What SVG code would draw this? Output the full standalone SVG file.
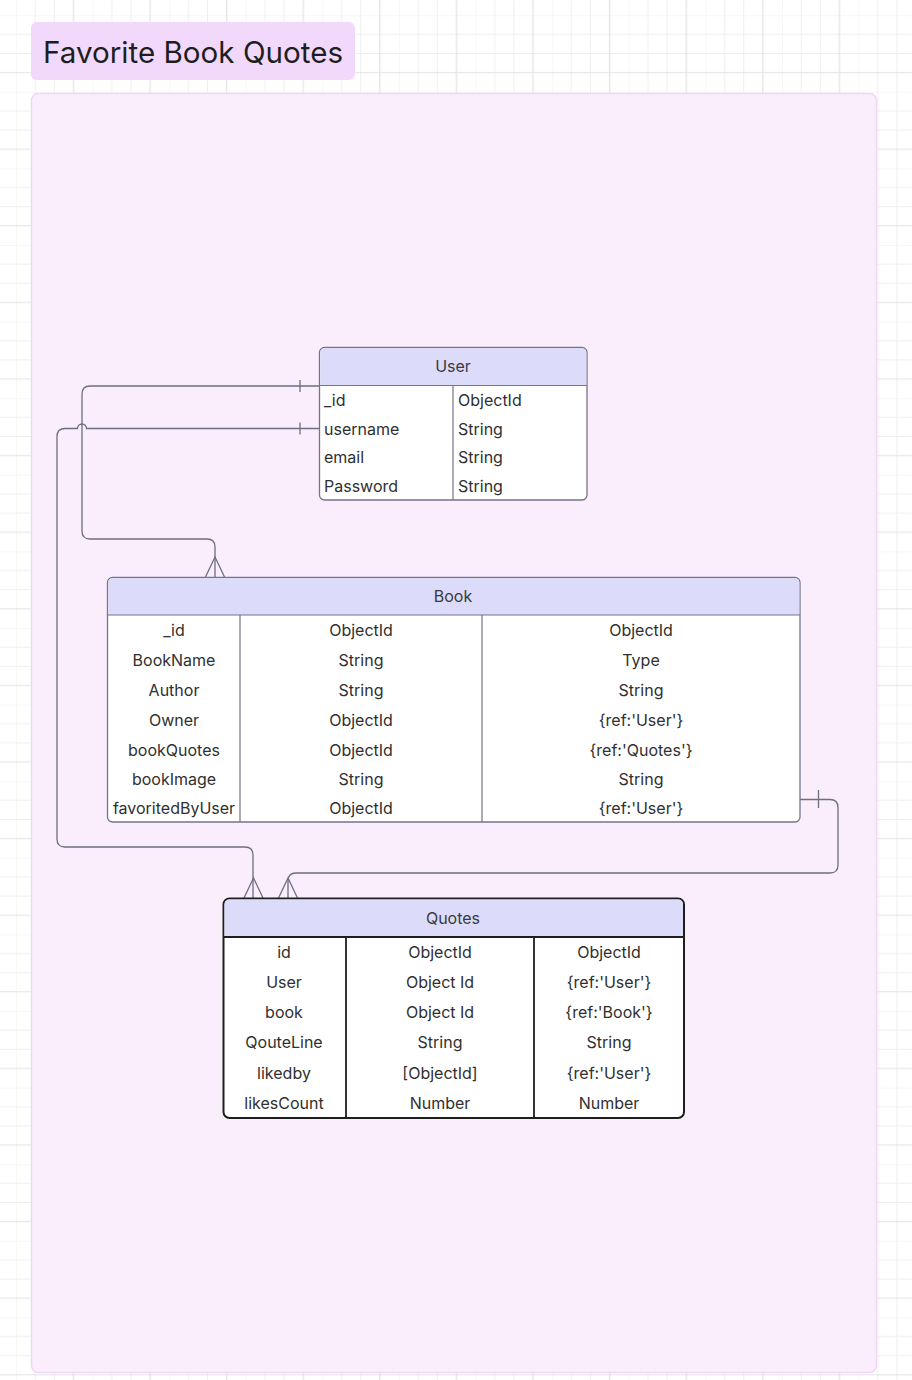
<svg xmlns="http://www.w3.org/2000/svg" width="912" height="1380" viewBox="0 0 912 1380">
<style>
.t{font-family:Inter,"Noto Sans","Liberation Sans",sans-serif;font-size:16px;fill:#303030;dominant-baseline:central}
.c{text-anchor:middle}
.h{font-family:Inter,"Noto Sans","Liberation Sans",sans-serif;font-size:16px;fill:#3a3a3a;text-anchor:middle;dominant-baseline:central}
.frame{fill:#ffffff;stroke:#74748a;stroke-width:1.3}
.frameSel{fill:#ffffff;stroke:#1e1e1e;stroke-width:2}
.head{fill:#dcdcfa}
.div{stroke:#74748a;stroke-width:1.2;fill:none}
.divSel{stroke:#1e1e1e;stroke-width:1.8;fill:none}
.conn{fill:none;stroke:#6e6e80;stroke-width:1.3}
</style>
<defs>
<pattern id="grid" patternUnits="userSpaceOnUse" x="16" y="15.2" width="76.6" height="76.6">
<path d="M0,0V76.6M19.15,0V76.6M38.3,0V76.6M0,0H76.6M0,19.15H76.6M0,38.3H76.6" stroke="#efefef" stroke-width="1" fill="none"/>
<path d="M57.45,0V76.6M0,57.45H76.6" stroke="#e2e2e2" stroke-width="1.2" fill="none"/>
</pattern>
</defs>
<rect width="912" height="1380" fill="#ffffff"/>
<rect width="912" height="1380" fill="url(#grid)"/>
<g id="title">
<rect x="31" y="22" width="324" height="58" rx="6" fill="#f2d9fb"/>
<text x="43" y="52" style="font-family:Inter,'Noto Sans','Liberation Sans',sans-serif;font-size:29.6px;fill:#1e1e1e;dominant-baseline:central">Favorite Book Quotes</text>
</g>
<g id="section">
<rect x="31.5" y="93.5" width="845" height="1279" rx="7" fill="#fbeefc" stroke="#f0d6f9" stroke-width="1.5"/>
</g>
<g id="connectors">
<path class="conn" d="M319,386H90Q82,386 82,394V531Q82,539 90,539H207Q215,539 215,547V577"/>
<path class="conn" d="M300,380V392"/>
<path class="conn" d="M205.5,577L215,557L224.5,577"/>
<path class="conn" d="M319,428.5H86.5A4.5,4.5 0 0 0 77.5,428.5H65Q57,428.5 57,436.5V839Q57,847 65,847H245Q253,847 253,855V898"/>
<path class="conn" d="M300,422.5V434.5"/>
<path class="conn" d="M244,898L253.5,878L263,898"/>
<path class="conn" d="M800,799.5H830Q838,799.5 838,807.5V865Q838,873 830,873H296Q288,873 288,881V898"/>
<path class="conn" d="M818.5,790V808"/>
<path class="conn" d="M278.5,898L288,878L297.5,898"/>
</g>
<g id="user">
<rect class="frame" x="319.5" y="347.5" width="267.5" height="152.5" rx="5"/>
<path class="head" d="M324.5,348.2H582Q586.3,348.2 586.3,352.5V385.5H320.2V352.5Q320.2,348.2 324.5,348.2Z"/>
<path class="div" d="M319.5,385.5H587M453,385.5V500"/>
<text class="h" x="453" y="366">User</text>
<text class="t" x="324" y="400">_id</text><text class="t" x="458" y="400">ObjectId</text>
<text class="t" x="324" y="428.5">username</text><text class="t" x="458" y="428.5">String</text>
<text class="t" x="324" y="457">email</text><text class="t" x="458" y="457">String</text>
<text class="t" x="324" y="486">Password</text><text class="t" x="458" y="486">String</text>
</g>
<g id="book">
<rect class="frame" x="107.5" y="577.5" width="692.5" height="244.5" rx="5"/>
<path class="head" d="M112.5,578.2H795Q799.3,578.2 799.3,582.5V615H108.2V582.5Q108.2,578.2 112.5,578.2Z"/>
<path class="div" d="M107.5,615H800M240,615V822M482,615V822"/>
<text class="h" x="453" y="596">Book</text>
<text class="t c" x="174" y="630">_id</text><text class="t c" x="361" y="630">ObjectId</text><text class="t c" x="641" y="630">ObjectId</text>
<text class="t c" x="174" y="660">BookName</text><text class="t c" x="361" y="660">String</text><text class="t c" x="641" y="660">Type</text>
<text class="t c" x="174" y="690">Author</text><text class="t c" x="361" y="690">String</text><text class="t c" x="641" y="690">String</text>
<text class="t c" x="174" y="720">Owner</text><text class="t c" x="361" y="720">ObjectId</text><text class="t c" x="641" y="720">{ref:'User'}</text>
<text class="t c" x="174" y="750">bookQuotes</text><text class="t c" x="361" y="750">ObjectId</text><text class="t c" x="641" y="750">{ref:'Quotes'}</text>
<text class="t c" x="174" y="779">bookImage</text><text class="t c" x="361" y="779">String</text><text class="t c" x="641" y="779">String</text>
<text class="t c" x="174" y="808">favoritedByUser</text><text class="t c" x="361" y="808">ObjectId</text><text class="t c" x="641" y="808">{ref:'User'}</text>
</g>
<g id="quotes">
<rect class="frameSel" x="223.5" y="898.5" width="460.5" height="219.5" rx="6"/>
<path class="head" d="M229.5,899.5H678Q683,899.5 683,904.5V937H224.5V904.5Q224.5,899.5 229.5,899.5Z"/>
<path class="divSel" d="M223.5,937H684M346,937V1118M534,937V1118"/>
<text class="h" x="453" y="918">Quotes</text>
<text class="t c" x="284" y="952">id</text><text class="t c" x="440" y="952">ObjectId</text><text class="t c" x="609" y="952">ObjectId</text>
<text class="t c" x="284" y="982">User</text><text class="t c" x="440" y="982">Object Id</text><text class="t c" x="609" y="982">{ref:'User'}</text>
<text class="t c" x="284" y="1012">book</text><text class="t c" x="440" y="1012">Object Id</text><text class="t c" x="609" y="1012">{ref:'Book'}</text>
<text class="t c" x="284" y="1042">QouteLine</text><text class="t c" x="440" y="1042">String</text><text class="t c" x="609" y="1042">String</text>
<text class="t c" x="284" y="1073">likedby</text><text class="t c" x="440" y="1073">[ObjectId]</text><text class="t c" x="609" y="1073">{ref:'User'}</text>
<text class="t c" x="284" y="1103">likesCount</text><text class="t c" x="440" y="1103">Number</text><text class="t c" x="609" y="1103">Number</text>
</g>
</svg>
